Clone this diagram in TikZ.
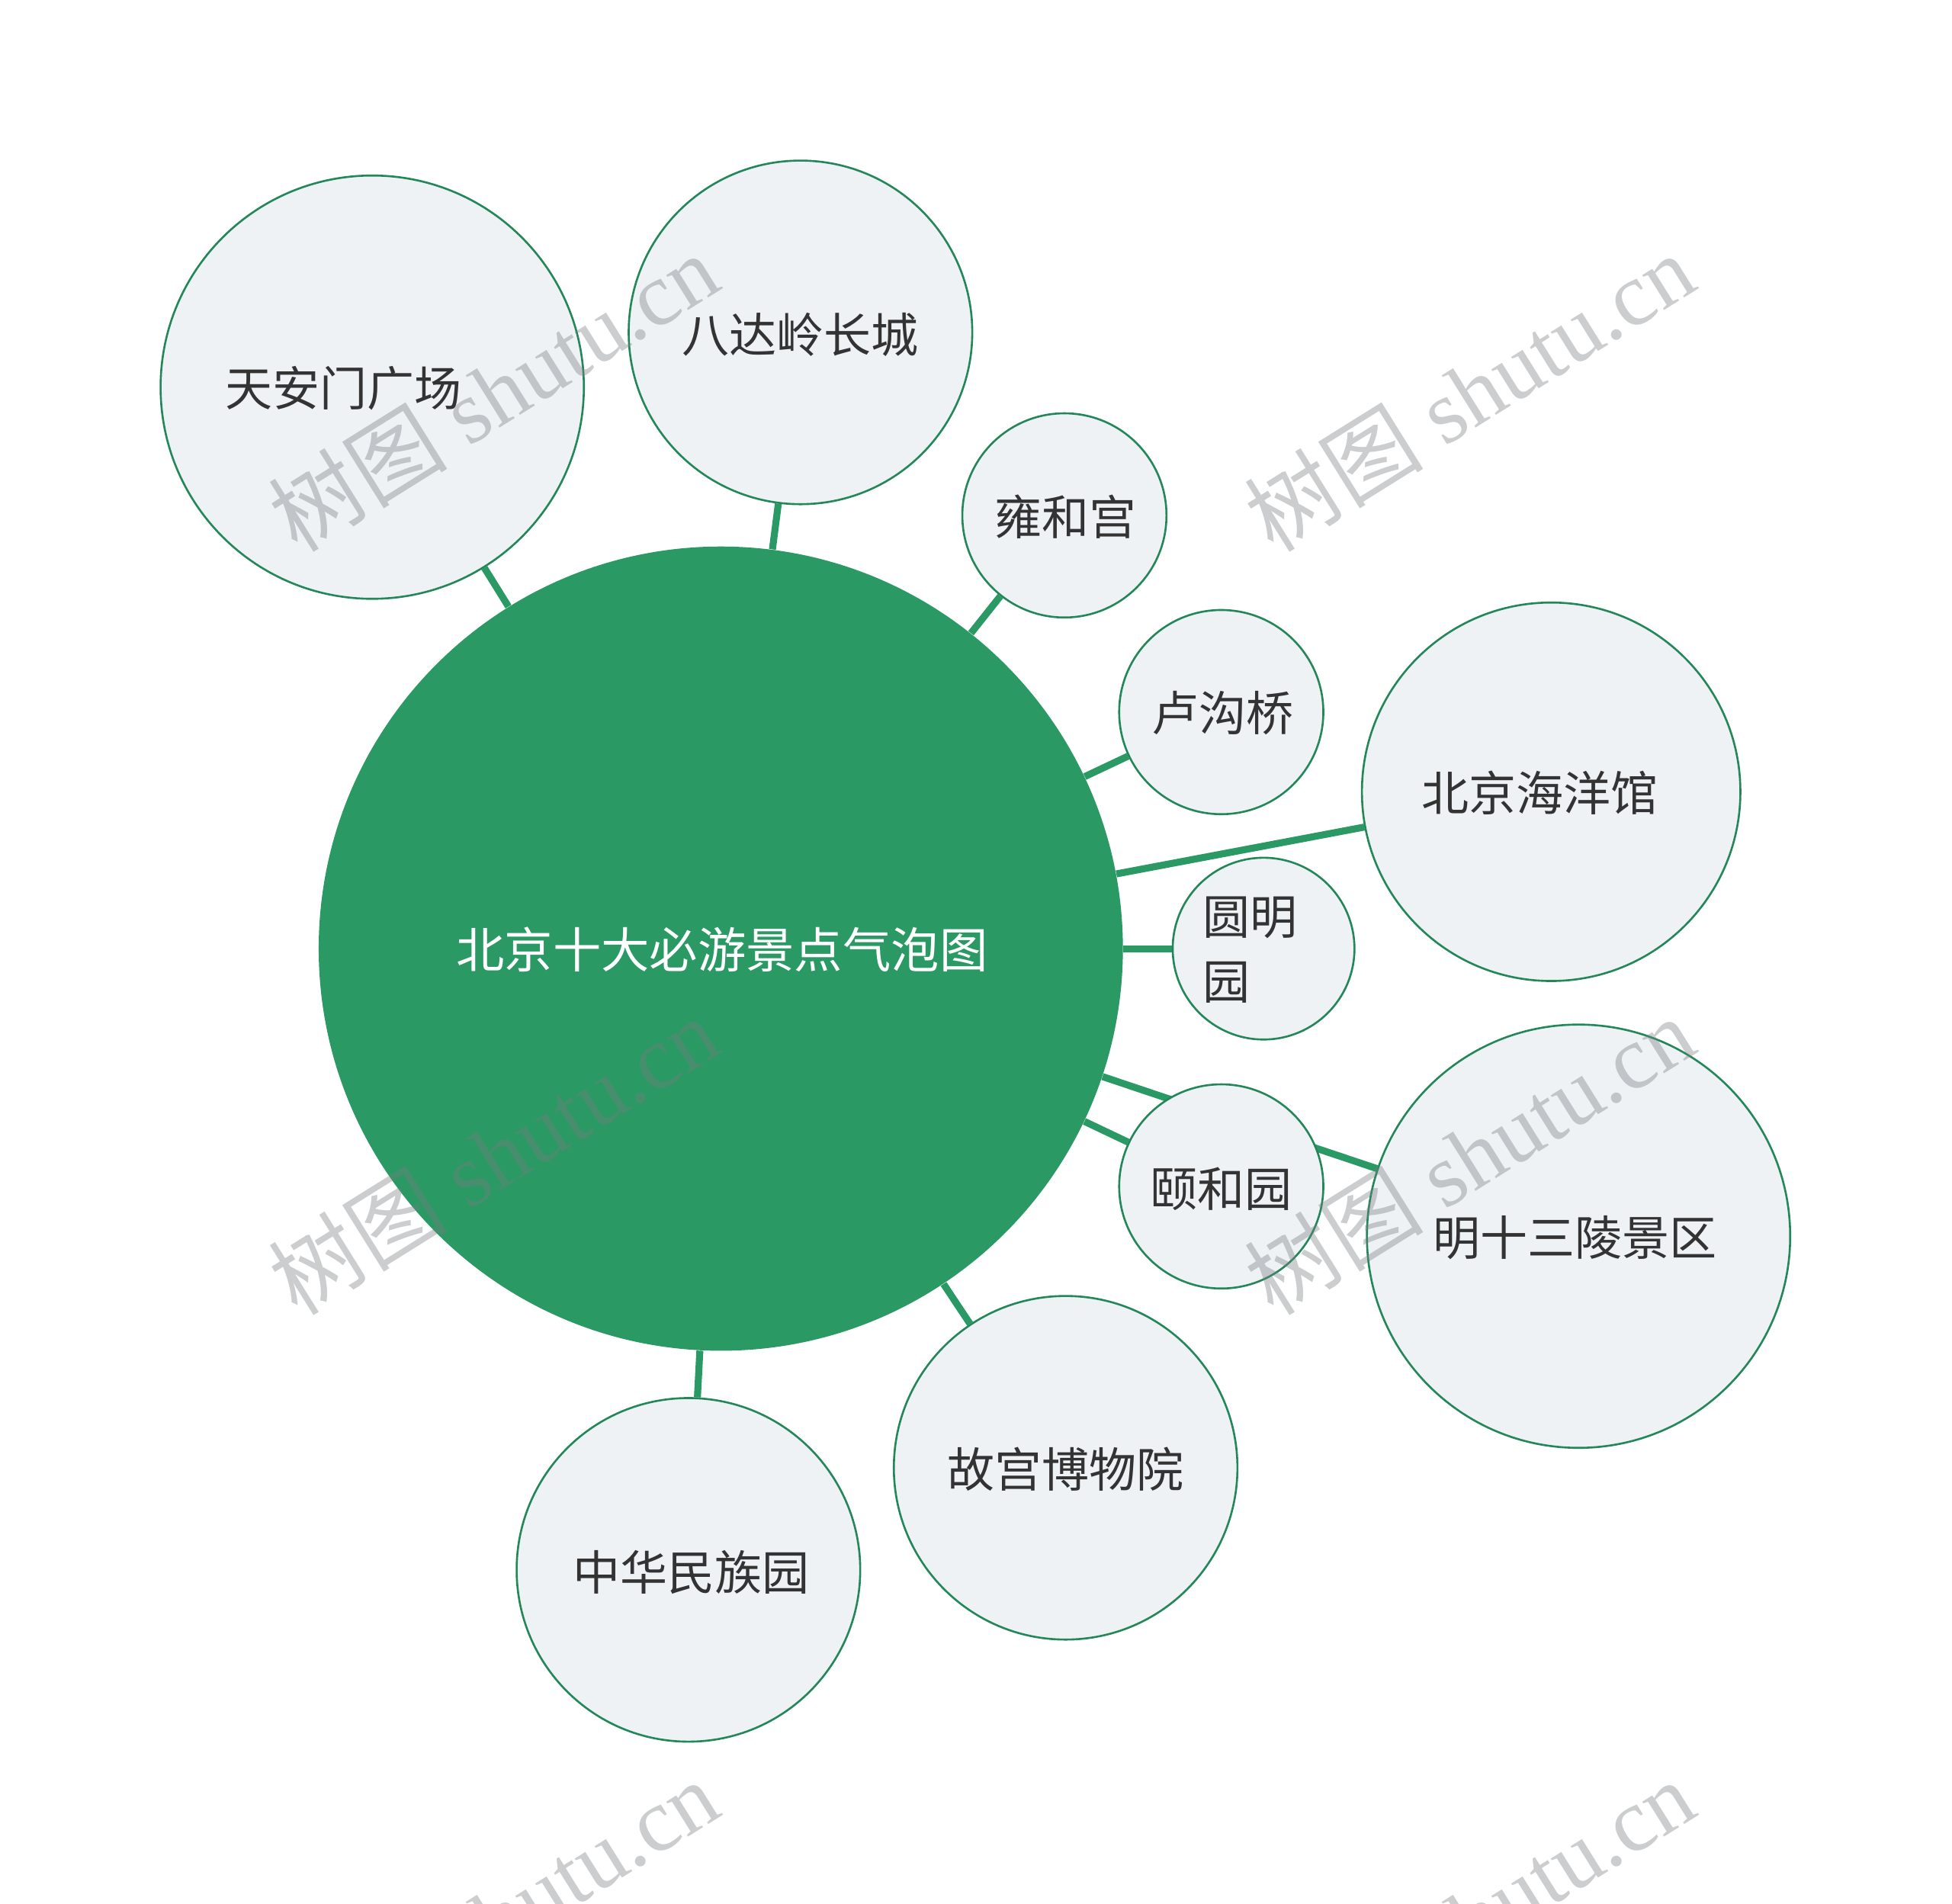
\documentclass[tikz,border=0pt]{standalone}
\usepackage{fontspec}
\newfontfamily\cjk{Noto Sans CJK SC}
\newfontfamily\wmfont{Liberation Serif}
\usetikzlibrary{backgrounds}
\definecolor{maingreen}{RGB}{42,153,100}
\definecolor{bordergreen}{RGB}{36,135,90}
\definecolor{subfill}{RGB}{238,242,245}
\definecolor{labeltext}{RGB}{51,51,51}
\definecolor{wmgray}{RGB}{120,125,130}
\begin{document}
\begin{tikzpicture}[x=0.5pt,y=-0.5pt,
  bubble/.style={circle, draw=bordergreen, line width=0.8pt, fill=subfill, inner sep=0pt},
  hub/.style={circle, fill=maingreen, inner sep=0pt, minimum size=323pt},
  link/.style={draw=maingreen, line width=2.8pt},
  lbl/.style={font=\cjk\fontsize{19pt}{26pt}\selectfont, text=labeltext, inner sep=0pt},
  titlelbl/.style={font=\cjk\fontsize{19.4pt}{26pt}\selectfont, text=white, inner sep=0pt},
  wm/.style={font=\wmfont\fontsize{36pt}{40pt}\selectfont, text=wmgray, text opacity=0.38, rotate=32, inner sep=0pt}]
\useasboundingbox (0,0) rectangle (1568,1529);

\node[hub] (hub) at (579,762) {};
\node[bubble, minimum size=170pt] (tam) at (299,311) {};
\node[bubble, minimum size=138pt] (bdl) at (643,267) {};
\node[bubble, minimum size=82pt] (yhg) at (855,414) {};
\node[bubble, minimum size=82pt] (lgq) at (981,572) {};
\node[bubble, minimum size=152pt] (hyg) at (1246,636) {};
\node[bubble, minimum size=73pt] (ymy) at (1015,762) {};
\node[bubble, minimum size=82pt] (yhy) at (981,953) {};
\node[bubble, minimum size=170pt] (mssl) at (1268,993) {};
\node[bubble, minimum size=138pt] (ggbwy) at (856,1179) {};
\node[bubble, minimum size=138pt] (zhmzy) at (553,1261) {};

\begin{pgfonlayer}{background}
\fill[white] (0,0) rectangle (1568,1529);
\draw[link] (hub) -- (tam);
\draw[link] (hub) -- (bdl);
\draw[link] (hub) -- (yhg);
\draw[link] (hub) -- (lgq);
\draw[link] (hub) -- (hyg);
\draw[link] (hub) -- (ymy);
\draw[link] (hub) -- (yhy);
\draw[link] (hub) -- (mssl);
\draw[link] (hub) -- (ggbwy);
\draw[link] (hub) -- (zhmzy);
\end{pgfonlayer}

\node[titlelbl] (title) at (580,763) {北京十大必游景点气泡图};
\node[lbl] (ltam) at (276,312) {天安门广场};
\node[lbl] (lbdl) at (643,269) {八达岭长城};
\node[lbl] (lyhg) at (856,415) {雍和宫};
\node[lbl] (llgq) at (982,573) {卢沟桥};
\node[lbl] (lhyg) at (1237,637) {北京海洋馆};
\node[lbl, align=left] (lymy) at (1004,763) {圆明\\园};
\node[lbl] (lyhy) at (981,955) {颐和园};
\node[lbl] (lmssl) at (1265,994) {明十三陵景区};
\node[lbl] (lggbwy) at (856,1180) {故宫博物院};
\node[lbl] (lzhmzy) at (555,1263) {中华民族园};

\begin{scope}
\clip (0,0) rectangle (1568,1529);
\node[wm] (wm1) at (396,315) {{\cjk 树图} shutu.cn};
\node[wm] (wm2) at (1180,315) {{\cjk 树图} shutu.cn};
\node[wm] (wm3) at (396,928) {{\cjk 树图} shutu.cn};
\node[wm] (wm4) at (1180,928) {{\cjk 树图} shutu.cn};
\node[wm] (wm5) at (396,1541) {{\cjk 树图} shutu.cn};
\node[wm] (wm6) at (1180,1541) {{\cjk 树图} shutu.cn};
\end{scope}
\end{tikzpicture}
\end{document}
